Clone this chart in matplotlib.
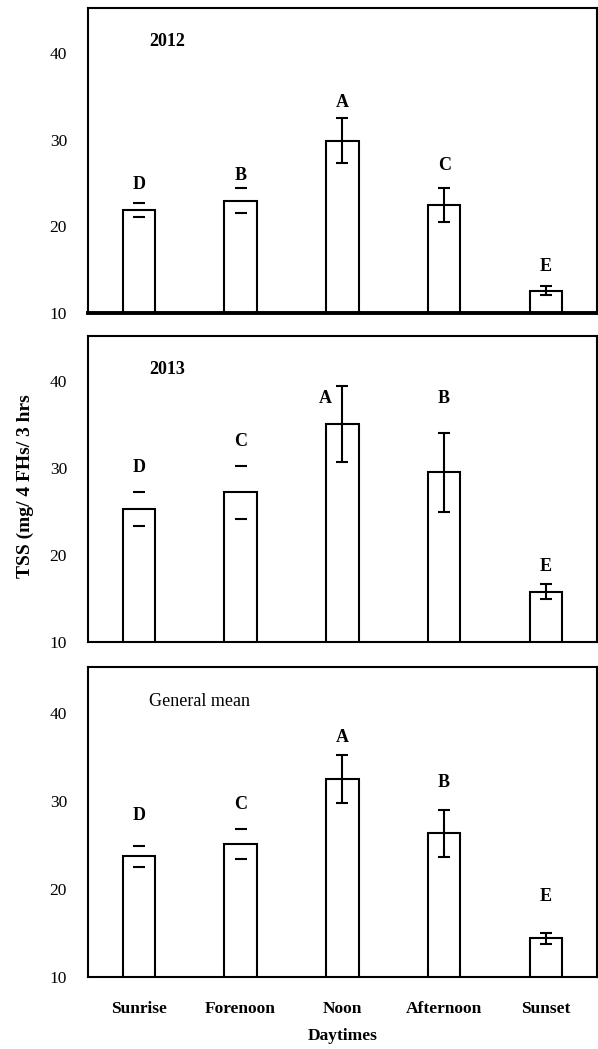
import matplotlib.pyplot as plt
import numpy as np

plt.rcParams['font.family'] = ['Liberation Serif', 'DejaVu Serif']

daytimes = ['Sunrise', 'Forenoon', 'Noon', 'Afternoon', 'Sunset']
panels = ['2012', '2013', 'General mean']

# means and standard errors
means_2012 = [21.9, 23.0, 29.9, 22.5, 12.6]
err_2012 = [0.85, 1.5, 2.6, 1.95, 0.5]
means_2013 = [25.3, 27.2, 35.1, 29.5, 15.8]
err_2013 = [1.95, 3.0, 4.4, 4.55, 0.9]
means_all = [23.7, 25.1, 32.5, 26.3, 14.4]
err_all = [1.15, 1.7, 2.7, 2.65, 0.6]

# Duncan letters and where they sit
letters_2012 = ['D', 'B', 'A', 'C', 'E']
letters_2013 = ['D', 'C', 'A', 'B', 'E']
letters_all = ['D', 'C', 'A', 'B', 'E']
letter_y_2012 = [24.8, 25.9, 34.3, 27.0, 15.4]
letter_y_2013 = [30.1, 33.1, 38.0, 38.0, 18.7]
letter_y_all = [28.3, 29.6, 37.2, 32.1, 19.1]

means = [means_2012, means_2013, means_all]
errs = [err_2012, err_2013, err_all]
letters = [letters_2012, letters_2013, letters_all]
letter_ys = [letter_y_2012, letter_y_2013, letter_y_all]

# first two bars only show the caps
stem_shown = [False, False, True, True, True]

fig = plt.figure(figsize=(5.98, 10.49), dpi=100)
boxes = [[0.147, 0.7016, 0.851, 0.2904],
         [0.147, 0.388, 0.851, 0.2917],
         [0.147, 0.0686, 0.851, 0.2955]]

x = np.arange(len(daytimes))
for k in range(3):
  ax = fig.add_axes(boxes[k])
  ax.bar(x, means[k], width=0.32, bottom=0, color='white', edgecolor='black', linewidth=1.5)
  for i in range(len(daytimes)):
    eb = ax.errorbar(x[i], means[k][i], yerr=errs[k][i], fmt='none', ecolor='black',
                     elinewidth=1.5, capsize=4, capthick=1.5)
    if not stem_shown[i]:
      eb[2][0].set_visible(False)
  for i in range(len(daytimes)):
    lx = x[i]
    if k == 1 and i == 2:
      lx = x[i] - 0.17
    ax.text(lx, letter_ys[k][i], letters[k][i], ha='center', va='center',
            fontsize=13, fontweight='bold')
  ax.text(0.12, 0.89, panels[k], transform=ax.transAxes, ha='left', va='center',
          fontsize=13, fontweight='bold' if k < 2 else 'normal')
  ax.set_xlim(-0.5, 4.5)
  ax.set_ylim(10, 45.2)
  ax.set_yticks([10, 20, 30, 40])
  ax.tick_params(axis='y', length=0, pad=15, labelsize=12.5)
  for s in ax.spines.values():
    s.set_linewidth(1.5)
  if k == 0:
    ax.spines['bottom'].set_linewidth(2.8)
  if k == 2:
    ax.set_xticks(x)
    ax.set_xticklabels(daytimes, fontsize=12.5, fontweight='bold')
    ax.tick_params(axis='x', length=0, pad=17)
    ax.set_xlabel('Daytimes', fontsize=12.5, fontweight='bold', labelpad=8)
  else:
    ax.set_xticks([])

fig.text(0.042, 0.537, 'TSS (mg/ 4 FHs/ 3 hrs', rotation=90, ha='center', va='center',
         fontsize=14, fontweight='bold')

plt.savefig('out.png', dpi=100)
